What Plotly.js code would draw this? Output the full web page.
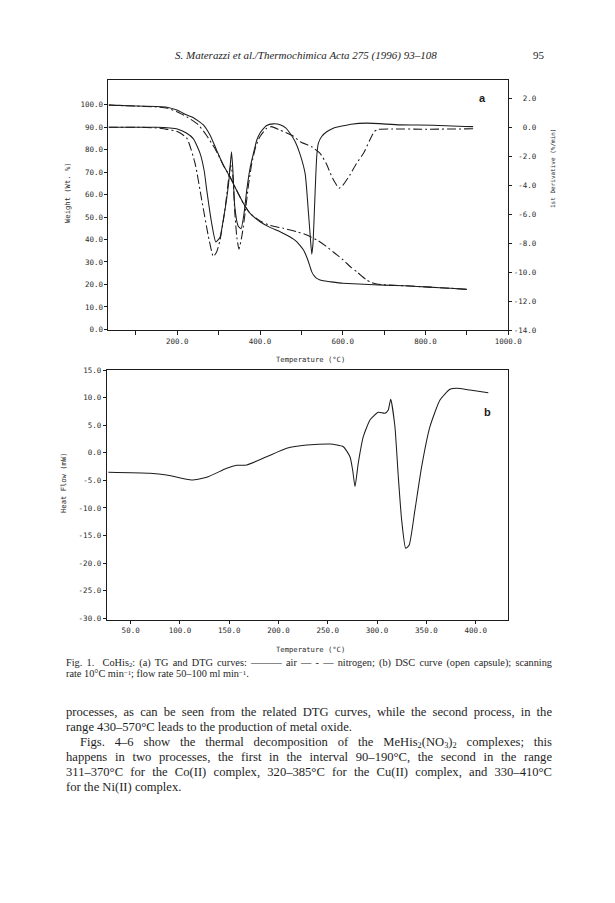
<!DOCTYPE html>
<html><head><meta charset="utf-8">
<script src="https://cdn.plot.ly/plotly-3.0.1.min.js"></script>
<style>
html,body{margin:0;padding:0;background:#fff;}
#page{position:relative;width:615px;height:903px;overflow:hidden;background:#fff;}
#chart{position:absolute;left:0;top:0;width:615px;height:903px;}
.t{position:absolute;font-family:"Liberation Serif","Times New Roman",serif;color:#1e1e1e;white-space:nowrap;}
.j{text-align:justify;text-align-last:justify;white-space:normal;}
sub{font-size:0.66em;vertical-align:-0.2em;line-height:0;}
sup{font-size:0.66em;vertical-align:0.35em;line-height:0;}
.hdr{font-size:11px;font-style:italic;line-height:12px;}
.cap{font-size:10.3px;line-height:10px;height:10px;}
.body{font-size:12.6px;line-height:15px;height:15px;}
</style></head>
<body><div id="page"><div id="chart"></div>
<div class="t hdr" style="left:175px;top:49px;">S. Materazzi et al./Thermochimica Acta 275 (1996) 93–108</div>
<div class="t hdr" style="left:533px;top:49px;font-style:normal;">95</div>
<div class="t cap j" style="left:66px;top:658px;width:486px;">Fig. 1.&nbsp; CoHis<sub>2</sub>: (a) TG and DTG curves: ——— air — - — nitrogen; (b) DSC curve (open capsule); scanning</div>
<div class="t cap" style="left:66px;top:669px;">rate 10°C min<sup>−1</sup>; flow rate 50–100 ml min<sup>−1</sup>.</div>
<div class="t body j" style="left:66px;top:705px;width:486px;">processes, as can be seen from the related DTG curves, while the second process, in the</div>
<div class="t body" style="left:66px;top:720px;">range 430–570°C leads to the production of metal oxide.</div>
<div class="t body j" style="left:80px;top:735px;width:472px;">Figs. 4–6 show the thermal decomposition of the MeHis<sub>2</sub>(NO<sub>3</sub>)<sub>2</sub> complexes; this</div>
<div class="t body j" style="left:66px;top:750px;width:486px;">happens in two processes, the first in the interval 90–190°C, the second in the range</div>
<div class="t body j" style="left:66px;top:765px;width:486px;">311–370°C for the Co(II) complex, 320–385°C for the Cu(II) complex, and 330–410°C</div>
<div class="t body" style="left:66px;top:780px;">for the Ni(II) complex.</div>
</div>
<script>
// ---- Panel (a): TG curves (weight %, left axis) ----
const tgAirT  = [34, 60, 100, 150, 175, 199, 223, 239, 263, 279, 295, 311, 327, 343, 360, 376, 400, 424, 445, 464, 480, 489, 497, 505, 511, 517, 521, 525, 531, 537, 545, 557, 569, 600, 650, 700, 750, 810, 860, 900];
const tgAirW  = [100, 99.7, 99.4, 99.2, 98.9, 97.6, 95.4, 94.2, 91, 86.5, 79.8, 73.2, 68, 62, 56, 51.6, 47.9, 45.4, 43.8, 42, 40.3, 39, 37.3, 35.3, 33, 30.1, 27.8, 25.6, 23.8, 22.7, 22.0, 21.5, 21.2, 20.5, 20.1, 19.7, 19.4, 18.8, 18.3, 17.8];
const tgN2T   = [34, 100, 150, 175, 199, 223, 250, 270, 290, 311, 327, 343, 360, 376, 400, 424, 456, 490, 513, 540, 561, 580, 601, 620, 634, 646, 658, 670, 682, 700, 750, 810, 860, 900];
const tgN2W   = [99.8, 99.4, 99.0, 98.5, 96.9, 94.6, 91.2, 86.5, 80.8, 73.2, 68, 62, 56, 51.6, 48.3, 46.3, 45.0, 43.4, 42.0, 39.5, 36.8, 34.0, 30.9, 27.6, 25.6, 23.7, 21.9, 20.8, 20.2, 19.8, 19.4, 18.8, 18.3, 17.8];
// ---- Panel (a): DTG curves (%/min, right axis) ----
const dtgAirT = [34, 100, 150, 182, 200, 222, 239, 255, 265, 271, 283, 293, 303, 311, 319, 325, 328, 331, 334, 339, 347, 354, 361, 368, 376, 384, 392, 400, 415, 432, 450, 462, 472, 485, 496, 509, 517, 521, 525, 528, 531, 534, 537, 541, 549, 562, 577, 620, 658, 738, 819, 915];
const dtgAirV = [0, 0, 0, -0.05, -0.12, -0.4, -0.8, -1.8, -3.0, -4.3, -6.6, -7.9, -7.6, -6.4, -5.0, -3.6, -2.6, -1.7, -2.8, -5.5, -6.8, -7.0, -6.0, -4.3, -2.8, -1.8, -0.9, -0.4, 0.1, 0.23, 0.15, -0.05, -0.4, -1.0, -1.8, -3.2, -5.9, -7.4, -8.74, -8.0, -6.0, -3.8, -2.0, -1.1, -0.64, -0.3, -0.07, 0.2, 0.28, 0.16, 0.14, 0.04];
const dtgN2T  = [34, 100, 150, 175, 200, 223, 243, 259, 275, 287, 295, 303, 311, 319, 325, 329, 334, 339, 344, 349, 356, 364, 372, 380, 390, 400, 415, 428, 448, 480, 497, 525, 545, 560, 575, 591, 600, 617, 633, 650, 665, 676, 686, 720, 800, 915];
const dtgN2V  = [0, 0, -0.05, -0.15, -0.3, -0.75, -2.5, -5.0, -7.5, -8.9, -8.6, -7.8, -6.5, -4.8, -3.3, -2.6, -3.3, -5.9, -7.6, -8.4, -7.5, -5.9, -4.0, -2.5, -1.3, -0.64, -0.1, 0.04, -0.2, -0.6, -1.0, -1.35, -1.8, -2.5, -3.5, -4.2, -4.0, -3.3, -2.5, -1.8, -0.9, -0.3, -0.15, -0.12, -0.14, -0.11];
// ---- Panel (b): DSC curve (mW) ----
const dscT = [27.3, 69.6, 86.5, 111.9, 127.1, 147.4, 157.5, 167.7, 188, 208.3, 228.6, 252.2, 265.7, 272.5, 275.2, 277.6, 280.9, 286, 292.8, 301.2, 308, 311.3, 313.8, 318.1, 321.5, 324.9, 329, 332.6, 338.4, 345.2, 353.6, 363.8, 373.9, 380.7, 394.2, 412.8];
const dscV = [-3.53, -3.71, -4.02, -4.93, -4.44, -2.81, -2.26, -2.21, -0.71, 0.82, 1.41, 1.59, 1.1, -0.71, -3.12, -6.14, -1.9, 2.92, 5.94, 7.34, 7.16, 7.75, 9.69, 4.73, -4.33, -12.17, -17.3, -16.7, -10.36, -2.52, 4.73, 9.57, 11.5, 11.69, 11.38, 10.89];
// ---- Tick labels ----
const aXTicks = [100, 200, 300, 400, 500, 600, 700, 800, 900, 1000];
const aXText  = ['', '200.0', '', '400.0', '', '600.0', '', '800.0', '', '1000.0'];
const wtTicks = [0, 10, 20, 30, 40, 50, 60, 70, 80, 90, 100];
const wtText  = ['0.0', '10.0', '20.0', '30.0', '40.0', '50.0', '60.0', '70.0', '80.0', '90.0', '100.0'];
const dTicks  = [2, 0, -2, -4, -6, -8, -10, -12, -14];
const dText   = ['2.0', '0.0', '-2.0', '-4.0', '-6.0', '-8.0', '-10.0', '-12.0', '-14.0'];
const bXTicks = [50, 100, 150, 200, 250, 300, 350, 400];
const bXText  = ['50.0', '100.0', '150.0', '200.0', '250.0', '300.0', '350.0', '400.0'];
const hfTicks = [15, 10, 5, 0, -5, -10, -15, -20, -25, -30];
const hfText  = ['15.0', '10.0', '5.0', '0.0', '-5.0', '-10.0', '-15.0', '-20.0', '-25.0', '-30.0'];

const MONO = '"DejaVu Sans Mono","Liberation Mono",monospace';
const INK = '#1c1c1c';
const TXT = '#2b2b2b';
const DASH = '9px,3px,2px,3px';
const padR = s => '\u00a0'.repeat(Math.max(0, 5 - s.length)) + s;

const lineStyle = (dash) => ({color: INK, width: 1.05, shape: 'spline', smoothing: 0.5, dash: dash || 'solid'});
const traces = [
  {x: tgAirT, y: tgAirW, xaxis: 'x', yaxis: 'y', mode: 'lines', line: lineStyle(), name: 'TG air'},
  {x: tgN2T, y: tgN2W, xaxis: 'x', yaxis: 'y', mode: 'lines', line: lineStyle(DASH), name: 'TG nitrogen'},
  {x: dtgAirT, y: dtgAirV, xaxis: 'x', yaxis: 'y3', mode: 'lines', line: lineStyle(), name: 'DTG air'},
  {x: dtgN2T, y: dtgN2V, xaxis: 'x', yaxis: 'y3', mode: 'lines', line: lineStyle(DASH), name: 'DTG nitrogen'},
  {x: dscT, y: dscV, xaxis: 'x2', yaxis: 'y2', mode: 'lines', line: lineStyle(), name: 'DSC'}
];

const axBase = {showgrid: false, zeroline: false, showline: true, linecolor: INK, linewidth: 1,
  ticks: 'outside', ticklen: 3, tickwidth: 1, tickcolor: INK, tickfont: {family: MONO, size: 7.5, color: TXT}};

const layout = {
  width: 615, height: 903, margin: {l: 0, r: 0, t: 0, b: 0},
  paper_bgcolor: 'rgba(0,0,0,0)', plot_bgcolor: 'rgba(0,0,0,0)', showlegend: false,
  font: {family: MONO, size: 7.5, color: TXT},
  xaxis: Object.assign({}, axBase, {domain: [0.17642, 0.82650], range: [33.7, 1000], anchor: 'y',
    tickmode: 'array', tickvals: aXTicks, ticktext: aXText, ticklen: 4, mirror: true}),
  yaxis: Object.assign({}, axBase, {domain: [0.63400, 0.91141], range: [-0.5, 111], anchor: 'x',
    tickmode: 'array', tickvals: wtTicks, ticktext: wtText}),
  yaxis3: Object.assign({}, axBase, {overlaying: 'y', side: 'right', anchor: 'x', range: [-14, 3.25],
    tickmode: 'array', tickvals: dTicks, ticktext: dText.map(padR)}),
  xaxis2: Object.assign({}, axBase, {domain: [0.1735, 0.8265], range: [25.7, 433.1], anchor: 'y2',
    tickmode: 'array', tickvals: bXTicks, ticktext: bXText, ticklen: 3, mirror: true}),
  yaxis2: Object.assign({}, axBase, {domain: [0.3134, 0.59025], range: [-30.3, 15], anchor: 'x2',
    tickmode: 'array', tickvals: hfTicks, ticktext: hfText, mirror: true}),
  annotations: [
    {text: 'Weight (Wt. %)', xref: 'paper', yref: 'paper', x: 67/615, y: 1 - 193/903, textangle: -90,
     showarrow: false, font: {family: MONO, size: 7.2, color: TXT}, xanchor: 'center', yanchor: 'middle'},
    {text: '1st Derivative (%/min)', xref: 'paper', yref: 'paper', x: 553/615, y: 1 - 169/903, textangle: -90,
     showarrow: false, font: {family: MONO, size: 6, color: TXT}, xanchor: 'center', yanchor: 'middle'},
    {text: 'Temperature (°C)', xref: 'paper', yref: 'paper', x: 310/615, y: 1 - 359/903,
     showarrow: false, font: {family: MONO, size: 7.2, color: TXT}, xanchor: 'center', yanchor: 'middle'},
    {text: 'Heat Flow (mW)', xref: 'paper', yref: 'paper', x: 63/615, y: 1 - 482/903, textangle: -90,
     showarrow: false, font: {family: MONO, size: 7.2, color: TXT}, xanchor: 'center', yanchor: 'middle'},
    {text: 'Temperature (°C)', xref: 'paper', yref: 'paper', x: 310/615, y: 1 - 649/903,
     showarrow: false, font: {family: MONO, size: 7.2, color: TXT}, xanchor: 'center', yanchor: 'middle'},
    {text: '<b>a</b>', xref: 'paper', yref: 'paper', x: 482/615, y: 1 - 98/903,
     showarrow: false, font: {family: 'Liberation Sans, Arial, sans-serif', size: 11, color: INK}, xanchor: 'center', yanchor: 'middle'},
    {text: '<b>b</b>', xref: 'paper', yref: 'paper', x: 487/615, y: 1 - 412/903,
     showarrow: false, font: {family: 'Liberation Sans, Arial, sans-serif', size: 11, color: INK}, xanchor: 'center', yanchor: 'middle'}
  ]
};

Plotly.newPlot('chart', traces, layout, {staticPlot: true, displayModeBar: false});
</script>
</body></html>
